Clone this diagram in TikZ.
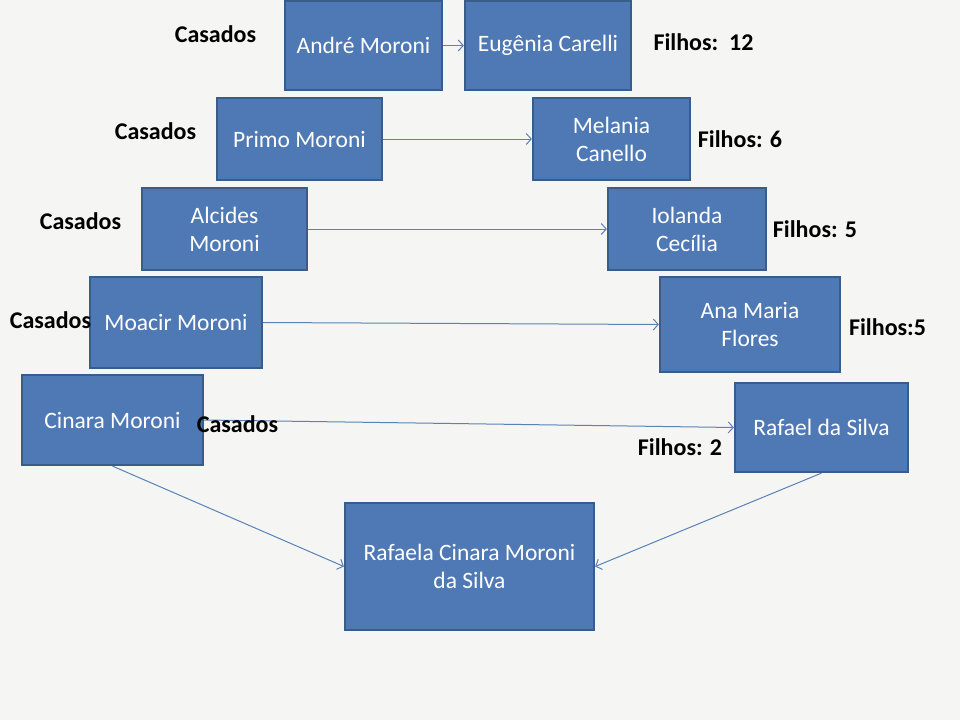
\documentclass[tikz,border=0pt]{standalone}
\usepackage{fontspec}
\setmainfont{Carlito}
\usetikzlibrary{arrows.meta}
\definecolor{bg}{HTML}{F5F5F3}
\definecolor{boxfill}{HTML}{4F79B4}
\definecolor{boxline}{HTML}{385D8A}
\definecolor{arr}{HTML}{5A82B8}
\tikzset{
  person/.style={draw=boxline, line width=2.2pt, fill=boxfill, text=white,
    align=center, inner sep=2pt, font=\fontsize{23.5}{28}\selectfont},
  lbl/.style={text=black, inner sep=0pt, font=\bfseries\fontsize{24}{28}\selectfont},
  link/.style={draw=arr, line width=1pt, -{Straight Barb[length=5pt,width=11pt]}}
}
\begin{document}
\begin{tikzpicture}[x=1pt,y=-1pt]
\useasboundingbox[fill=bg] (0,0) rectangle (960,720);
% boxes
\node[person, minimum width=157pt, minimum height=89pt] (andre) at (363.5,45.5) {André Moroni};
\node[person, minimum width=166pt, minimum height=89pt] (eugenia) at (548,45.5) {Eugênia Carelli};
\node[person, minimum width=165pt, minimum height=82pt] (primo) at (299.5,139) {Primo Moroni};
\node[person, minimum width=157pt, minimum height=82pt] (melania) at (611.5,139) {Melania\\Canello};
\node[person, minimum width=165pt, minimum height=82pt] (alcides) at (224.5,229) {Alcides\\Moroni};
\node[person, minimum width=158pt, minimum height=82pt] (iolanda) at (687,229) {Iolanda\\Cecília};
\node[person, minimum width=172pt, minimum height=91pt] (moacir) at (176,322.5) {Moacir Moroni};
\node[person, minimum width=180pt, minimum height=95pt] (ana) at (750,324.5) {Ana Maria\\Flores};
\node[person, minimum width=181pt, minimum height=90pt] (cinara) at (112.5,420) {Cinara Moroni};
\node[person, minimum width=173pt, minimum height=89pt] (rafael) at (821.5,427.5) {Rafael da Silva};
\node[person, minimum width=249pt, minimum height=127pt] (rafaela) at (469.5,566.5) {Rafaela Cinara Moroni\\da Silva};
% connectors
\draw[link] (andre.east) -- (eugenia.west);
\draw[link] (primo.east) -- (melania.west);
\draw[link] (alcides.east) -- (iolanda.west);
\draw[link] (moacir.east) -- (ana.west);
\draw[link] (cinara.east) -- (rafael.west);
\draw[link] (cinara.south) -- (rafaela.west);
\draw[link] (rafael.south) -- (rafaela.east);
% labels
\node[lbl] (c1) at (215.5,34) {Casados};
\node[lbl] (c2) at (155.5,131) {Casados};
\node[lbl] (c3) at (80.5,221) {Casados};
\node[lbl] (c4) at (50.5,320) {Casados};
\node[lbl] (c5) at (237.5,424) {Casados};
\node[lbl] (f1) at (703.5,42) {Filhos:\ \ 12};
\node[lbl] (f2) at (740,139) {Filhos: 6};
\node[lbl] (f3) at (815,229) {Filhos: 5};
\node[lbl] (f4) at (887.5,327) {Filhos:5};
\node[lbl] (f5) at (680,447) {Filhos: 2};
\end{tikzpicture}
\end{document}
